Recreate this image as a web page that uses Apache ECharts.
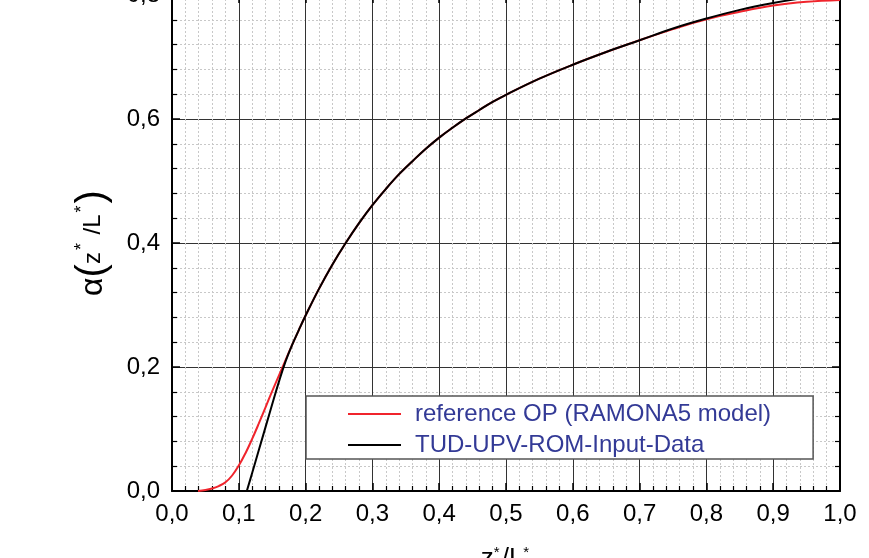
<!DOCTYPE html>
<html>
<head>
<meta charset="utf-8">
<script src="https://cdn.jsdelivr.net/npm/echarts@6/dist/echarts.min.js"></script>
<style>
  html, body { margin: 0; padding: 0; background: #fff; }
  #chart { width: 869px; height: 558px; }
</style>
</head>
<body>
<div id="chart"></div>
<script>
// reference OP (RAMONA5 model)
const refX = [0.039, 0.05, 0.06, 0.07, 0.08, 0.09, 0.10, 0.11, 0.12, 0.13, 0.14, 0.15, 0.16, 0.17, 0.18, 0.19, 0.20,
  0.22, 0.24, 0.26, 0.28, 0.30, 0.32, 0.34, 0.36, 0.38, 0.40, 0.42, 0.44, 0.46, 0.48, 0.50,
  0.55, 0.60, 0.65, 0.70, 0.75, 0.80, 0.85, 0.90, 0.95, 1.0]
const refY = [0, 0.0015, 0.004, 0.008, 0.014, 0.025, 0.041, 0.061, 0.084, 0.109, 0.135, 0.161, 0.186, 0.211, 0.236, 0.260, 0.283,
  0.326, 0.365, 0.400, 0.432, 0.461, 0.487, 0.511, 0.532, 0.552, 0.570, 0.586, 0.601, 0.6145, 0.6275, 0.639,
  0.665, 0.6875, 0.708, 0.727, 0.745, 0.761, 0.773, 0.783, 0.789, 0.792]
// TUD-UPV-ROM-Input-Data
const romX = [0.112, 0.12, 0.13, 0.14, 0.15, 0.16, 0.17, 0.18, 0.19, 0.20,
  0.22, 0.24, 0.26, 0.28, 0.30, 0.32, 0.34, 0.36, 0.38, 0.40, 0.42, 0.44, 0.46, 0.48, 0.50,
  0.55, 0.60, 0.65, 0.70, 0.75, 0.80, 0.85, 0.90, 0.95, 1.0]
const romY = [0, 0.029, 0.066, 0.103, 0.140, 0.176, 0.209, 0.236, 0.260, 0.283,
  0.326, 0.365, 0.400, 0.432, 0.461, 0.487, 0.511, 0.532, 0.552, 0.570, 0.586, 0.601, 0.6145, 0.6275, 0.639,
  0.665, 0.6875, 0.708, 0.727, 0.746, 0.762, 0.776, 0.787, 0.796, 0.804]
const seriesNames = ['reference OP (RAMONA5 model)', 'TUD-UPV-ROM-Input-Data']

const font = 'Liberation Sans, Arial, sans-serif'
const comma = v => v.toFixed(1).replace('.', ',')

const frameAxis = {
  axisLine: { show: true, onZero: false, lineStyle: { color: '#000', width: 2 } },
  axisTick: { show: true, inside: true, length: 8, lineStyle: { color: '#000', width: 1.5 } },
  minorTick: { show: true, splitNumber: 5, length: 5, lineStyle: { color: '#000', width: 1.2 } }
}

const chart = echarts.init(document.getElementById('chart'))
chart.setOption({
  animation: false,
  backgroundColor: '#fff',
  grid: { left: 172, right: 29, top: -5, bottom: 67, containLabel: false, outerBoundsMode: 'none' },
  legend: {
    data: seriesNames,
    orient: 'vertical',
    left: 306,
    top: 396,
    icon: 'rect',
    itemWidth: 53,
    itemHeight: 2,
    itemGap: 7,
    padding: [6, 42, 2, 42],
    backgroundColor: '#fff',
    borderColor: '#555',
    borderWidth: 1.5,
    borderRadius: 0,
    textStyle: { fontFamily: font, fontSize: 24, lineHeight: 24, color: '#333a96', padding: [0, 0, 0, 9] }
  },
  xAxis: [{
    type: 'value',
    min: 0,
    max: 1,
    interval: 0.1,
    ...frameAxis,
    axisLabel: { formatter: comma, fontFamily: font, fontSize: 24, color: '#000', margin: 11 },
    splitLine: { show: true, lineStyle: { color: '#333', width: 1 } },
    minorSplitLine: { show: true, lineStyle: { color: '#c8c8c8', width: 1, type: [2, 2] } },
    name: '{t|z}{s|*}{t|/L}{s|*}',
    nameLocation: 'middle',
    nameGap: 54,
    nameTextStyle: {
      rich: {
        t: { fontFamily: font, fontSize: 26, color: '#000' },
        s: { fontFamily: font, fontSize: 15, color: '#000', verticalAlign: 'top', padding: [0, 2, 12, 0] }
      }
    }
  }, {
    type: 'value',
    position: 'top',
    min: 0,
    max: 1,
    interval: 0.1,
    ...frameAxis,
    axisLabel: { show: false },
    splitLine: { show: false }
  }],
  yAxis: [{
    type: 'value',
    min: 0,
    max: 0.8,
    interval: 0.2,
    ...frameAxis,
    axisLabel: { formatter: comma, fontFamily: font, fontSize: 24, color: '#000', margin: 12 },
    splitLine: { show: true, lineStyle: { color: '#333', width: 1 } },
    minorSplitLine: { show: true, lineStyle: { color: '#c8c8c8', width: 1, type: [2, 2] } },
    name: '{g|α}{p|(}{t|z}{s|*}{t| /L}{s|*}{p|)}',
    nameLocation: 'middle',
    nameGap: 59,
    nameTextStyle: {
      rich: {
        g: { fontFamily: font, fontSize: 32, color: '#000' },
        p: { fontFamily: font, fontSize: 40, color: '#000' },
        t: { fontFamily: font, fontSize: 24, color: '#000' },
        s: { fontFamily: font, fontSize: 18, color: '#000', verticalAlign: 'top', padding: [0, 2, 16, 2] }
      }
    }
  }, {
    type: 'value',
    position: 'right',
    min: 0,
    max: 0.8,
    interval: 0.2,
    ...frameAxis,
    axisLabel: { show: false },
    splitLine: { show: false }
  }],
  series: [{
    name: seriesNames[0],
    type: 'line',
    data: refX.map((x, i) => [x, refY[i]]),
    symbol: 'none',
    smooth: 0.4,
    lineStyle: { color: '#f0242c', width: 2 },
    itemStyle: { color: '#f0242c' },
    z: 3
  }, {
    name: seriesNames[1],
    type: 'line',
    data: romX.map((x, i) => [x, romY[i]]),
    symbol: 'none',
    smooth: 0.4,
    lineStyle: { color: '#000', width: 2 },
    itemStyle: { color: '#000' },
    z: 4
  }]
})
</script>
</body>
</html>
